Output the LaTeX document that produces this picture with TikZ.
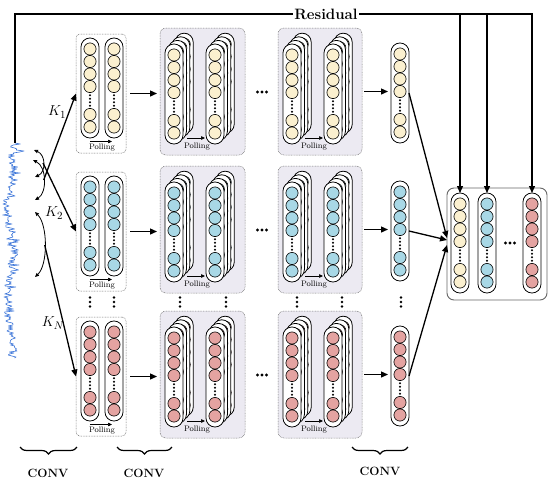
\documentclass[tikz,border=0pt]{standalone}
\usetikzlibrary{arrows.meta,decorations.pathreplacing}
\definecolor{cy}{HTML}{FBF0CF}
\definecolor{cb}{HTML}{A8D8E6}
\definecolor{cr}{HTML}{E4A3A1}
\definecolor{stkfill}{HTML}{ECEAF2}
\definecolor{sigblue}{HTML}{3B74D8}
\tikzset{
 pill/.style={draw=black, line width=0.8pt, fill=white, rounded corners=8.9pt, minimum width=18pt, minimum height=100pt, inner sep=0pt, outer sep=0pt},
 pillpath/.style={draw=black, line width=0.8pt, fill=white, rounded corners=8.9pt},
 neuron/.style={draw=black, line width=0.6pt},
 firstbox/.style={draw=black!55, dash pattern=on 0.8pt off 0.8pt, line width=0.5pt, fill=white, rounded corners=4pt, inner sep=0pt, outer sep=0pt},
 stkbox/.style={draw=black!55, dash pattern=on 0.8pt off 0.8pt, line width=0.5pt, fill=stkfill, rounded corners=6pt, inner sep=0pt, outer sep=0pt},
 outbox/.style={draw=black!60, line width=0.9pt, fill=white, rounded corners=7pt, inner sep=0pt, outer sep=0pt},
 arr/.style={line width=1.3pt, -{Triangle[length=7pt,width=6pt]}},
 polarr/.style={line width=0.6pt, -{Triangle[length=4pt,width=3.5pt]}},
 dblarr/.style={line width=0.8pt, {Triangle[length=4pt,width=3.5pt]}-{Triangle[length=4pt,width=3.5pt]}},
 poltext/.style={font=\fontsize{8}{9}\selectfont, inner sep=0pt},
 klabel/.style={font=\fontsize{15}{17}\selectfont, inner sep=0pt},
 convtext/.style={font=\fontsize{12}{14}\selectfont\bfseries, inner sep=0pt},
 restext/.style={font=\fontsize{15}{17}\selectfont\bfseries, inner sep=1.5pt},
 resline/.style={line width=1.3pt},
 brc/.style={line width=1.2pt, decorate, decoration={brace, mirror, amplitude=7pt}},
 sigline/.style={draw=sigblue, line width=0.6pt, line join=round},
}
\newcommand{\Neurons}[3]{%
 \foreach \dd in {11,23.5,36,48.5,76.5,89}{\draw[neuron,fill=#3] ({#1},{#2+\dd}) circle[radius=6.1pt];}
 \foreach \dd in {57.25,60.75,64.25,67.75}{\fill ({#1},{#2+\dd}) circle[radius=1.2pt];}
}
\newcommand{\PillAt}[3]{%
 \draw[pillpath] ({#1-9},{#2}) rectangle ({#1+9},{#2+100});
 \Neurons{#1}{#2}{#3}
}
\newcommand{\NPill}[4]{%
 \node[pill] (#1) at ({#2},{#3+50}) {};
 \Neurons{#2}{#3}{#4}
}
\newcommand{\Stk}[4]{%
 \foreach \kk in {3,2,1}{\PillAt{#2+3.4*\kk}{#3-3.6*\kk}{#4}}
 \NPill{#1}{#2}{#3}{#4}
}
\newcommand{\HDots}[2]{%
 \foreach \dd in {-4.5,0,4.5}{\fill ({#1+\dd},{#2}) circle[radius=1.6pt];}
}
\newcommand{\VDots}[2]{%
 \foreach \dd in {0,4.5,9}{\fill ({#1},{#2+\dd}) circle[radius=1.4pt];}
}
\newcommand{\Row}[3]{%
 \node[firstbox, minimum width=50pt, minimum height=119pt] (b#1) at (101,{93.5+#2}) {};
 \NPill{p#1a}{90}{38+#2}{#3}
 \NPill{p#1b}{114}{38+#2}{#3}
 \draw[polarr] (90,{141.5+#2}) -- (112,{141.5+#2});
 \node[poltext] (pl#1) at (102,{147.5+#2}) {Polling};
 \node[stkbox, minimum width=85pt, minimum height=127pt] (s#1) at (202.5,{91.5+#2}) {};
 \Stk{s#1a}{174}{44+#2}{#3}
 \Stk{s#1b}{215}{44+#2}{#3}
 \draw[polarr] (187,{138+#2}) -- (205,{138+#2});
 \node[poltext] (ps#1) at (197,{147+#2}) {Polling};
 \HDots{262}{92+#2}
 \node[stkbox, minimum width=84pt, minimum height=127pt] (t#1) at (320,{91.5+#2}) {};
 \Stk{t#1a}{292}{44+#2}{#3}
 \Stk{t#1b}{333}{44+#2}{#3}
 \draw[polarr] (305,{138+#2}) -- (323,{138+#2});
 \node[poltext] (pt#1) at (314,{147+#2}) {Polling};
 \NPill{c#1}{400}{43+#2}{#3}
 \draw[arr, shorten <=4pt, shorten >=3pt] (b#1.east) -- (b#1.east -| s#1.west);
 \draw[arr, shorten <=2pt, shorten >=3pt] (t#1.east) -- (t#1.east -| c#1.west);
}
\begin{document}
\begin{tikzpicture}[x=1pt,y=-1pt]
\useasboundingbox (0,0) rectangle (550,483);
% rows
\Row{1}{0}{cy}
\Row{2}{138}{cb}
\Row{3}{283}{cr}
\foreach \xx in {90,114,180,226,297,342,401}{\VDots{\xx}{297.5}}
% output box
\node[outbox, minimum width=100pt, minimum height=112pt] (ob) at (497,244) {};
\NPill{o1}{460}{193}{cy}
\NPill{o2}{487}{193}{cb}
\NPill{o3}{532}{193}{cr}
\HDots{510}{243}
\draw[arr] (c1.east) -- ([yshift=6pt]ob.west);
\draw[arr] (c2.east) -- ([yshift=4pt]ob.west);
\draw[arr] (c3.east) -- ([yshift=-1pt]ob.west);
% signal
\coordinate (sigtop) at (15,143);
\pgfmathsetseed{42}
\draw[sigline] (sigtop) \foreach \i in {1,...,215}{ -- ({5+3*sin(\i*4)+7*rnd+12*rnd*rnd*rnd+(\i<10)*12*rnd}, {143+\i*1.0}) };
% residual
\node[restext] (res) at (326,14) {Residual};
\draw[resline] (sigtop) |- (res.west);
\draw[arr] (res.east) -| (o3.north);
\draw[arr] (o1.north |- res.east) -- (o1.north);
\draw[arr] (o2.north |- res.east) -- (o2.north);
% kernels
\draw[dblarr] (34,150) .. controls (46,155) and (46,172) .. (35,177);
\draw[dblarr] (33,160) .. controls (47,167) and (47,193) .. (35,200);
\draw[dblarr] (35,212) .. controls (48,225) and (48,265) .. (35,277);
\coordinate (k1s) at (43.7,180);
\coordinate (k2s) at (43,163);
\coordinate (k3s) at (44.7,245);
\draw[arr] (k1s) -- (b1.west);
\draw[arr] (k2s) -- (b2.west);
\draw[arr] (k3s) -- (b3.west);
\node[klabel] (kl1) at (57,112) {$K_1$};
\node[klabel] (kl2) at (54,213) {$K_2$};
\node[klabel] (kl3) at (53,323) {$K_N$};
% braces
\draw[brc] (20,447) -- (77,447);
\node[convtext] (cv1) at (48,473) {CONV};
\draw[brc] (117,447) -- (172,447);
\node[convtext] (cv2) at (144,473) {CONV};
\draw[brc] (352,447) -- (408,447);
\node[convtext] (cv3) at (380,471) {CONV};
\end{tikzpicture}
\end{document}
